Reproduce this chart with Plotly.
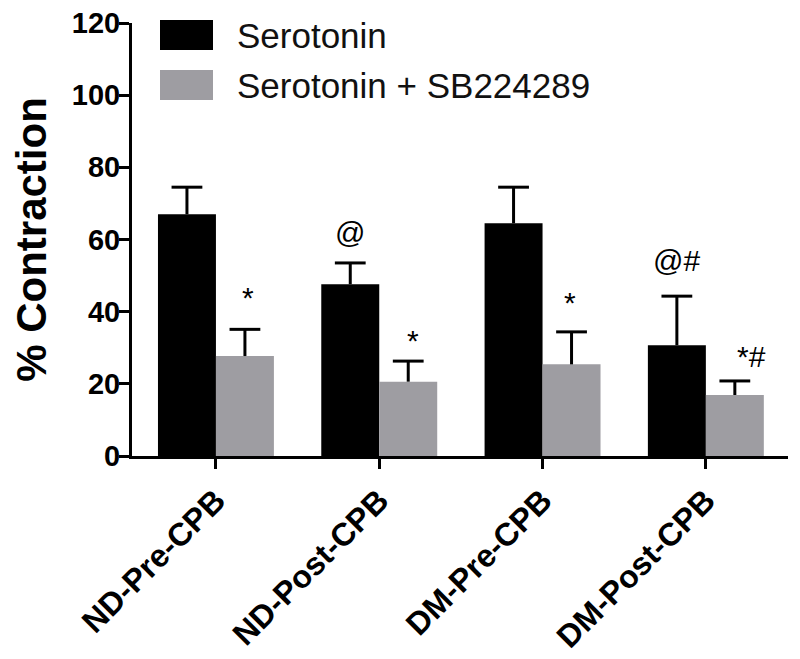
import plotly.graph_objects as go

categories = ["ND-Pre-CPB", "ND-Post-CPB", "DM-Pre-CPB", "DM-Post-CPB"]
serotonin = [67.0, 47.6, 64.5, 30.7]
serotonin_err = [7.5, 5.9, 10.0, 13.6]
sb = [27.7, 20.6, 25.4, 16.9]
sb_err = [7.4, 5.7, 9.0, 3.9]

series_names = ["Serotonin", "Serotonin + SB224289"]
series_colors = ["#000000", "#9e9da2"]

# significance marks: (category index, series index, text)
marks = [(0, 1, "*"), (1, 0, "@"), (1, 1, "*"), (2, 1, "*"), (3, 0, "@#"), (3, 1, "*#")]
mark_dx = [3, 0, 5, -2, 0, 17]        # px offsets
mark_dy = [32, 30, 21, 29, 36, 24]    # px offsets above error cap

FONT = "Liberation Sans, Arial, sans-serif"
BARGAP = 0.29
xidx = list(range(len(categories)))
half = (1 - BARGAP) / 4

fig = go.Figure()
vals = [serotonin, sb]
errs = [serotonin_err, sb_err]
for i in range(2):
    fig.add_trace(go.Bar(
        x=xidx, y=vals[i], name=series_names[i],
        marker=dict(color=series_colors[i], line=dict(width=0)),
        error_y=dict(type="data", symmetric=False, array=errs[i],
                     arrayminus=[0] * len(categories),
                     color="black", thickness=3, width=0),
        showlegend=False,
    ))
# error caps
for i in range(2):
    sign = -1 if i == 0 else 1
    fig.add_trace(go.Scatter(
        x=[c + sign * half for c in xidx],
        y=[v + e for v, e in zip(vals[i], errs[i])],
        mode="markers", showlegend=False, hoverinfo="skip",
        marker=dict(symbol="line-ew", size=22, color="black",
                    line=dict(width=3, color="black")),
    ))

for (ci, si, txt), dx, dy in zip(marks, mark_dx, mark_dy):
    xpos = ci + (-half if si == 0 else half)
    ypos = vals[si][ci] + errs[si][ci]
    fig.add_annotation(x=xpos, y=ypos, xref="x", yref="y", text=txt,
                       showarrow=False, xshift=dx, yshift=dy,
                       yanchor="middle", xanchor="center",
                       font=dict(family=FONT, size=30, color="black"))

# page body adds an 8px offset; figure is sized to fit the window
OFF = 8
FW, FH = 800 - OFF, 659 - OFF
L, T, W, H = 132 - OFF, 23 - OFF, 656, 433
def px_x(p):
    return (p - OFF - L) / W
def px_y(p):
    return (T + H - (p - OFF)) / H
leg_rows = [(20, 50), (70, 100)]
for i, (t, b) in enumerate(leg_rows):
    fig.add_shape(type="rect", xref="paper", yref="paper",
                  x0=px_x(160), x1=px_x(213), y0=px_y(b), y1=px_y(t),
                  fillcolor=series_colors[i], line=dict(width=0))
    fig.add_annotation(xref="paper", yref="paper", x=px_x(235), y=px_y((t + b) / 2),
                       text=series_names[i], showarrow=False,
                       xanchor="left", yanchor="middle",
                       font=dict(family=FONT, size=35, color="#111111"))

fig.update_layout(
    width=FW, height=FH,
    margin=dict(l=L, r=FW - L - W, t=T, b=FH - T - H),
    paper_bgcolor="white", plot_bgcolor="white",
    barmode="group", bargap=BARGAP, bargroupgap=0,
    font=dict(family=FONT, color="black"),
    showlegend=False,
)
fig.update_xaxes(
    range=[-0.514, 3.503], tickvals=xidx, ticktext=categories,
    showline=True, linewidth=3, linecolor="black",
    ticks="outside", ticklen=10, tickwidth=3, tickcolor="black",
    tickangle=-45, showgrid=False, zeroline=False, automargin=False,
    ticklabeloverflow="allow",
    tickfont=dict(family=FONT, size=32, color="black", weight="bold"),
)
fig.update_yaxes(
    range=[0, 120], dtick=20, showline=True, linewidth=3, linecolor="black",
    ticks="outside", ticklen=10, tickwidth=3, tickcolor="black",
    showgrid=False, zeroline=False, ticklabelstandoff=-7, automargin=False,
    ticklabeloverflow="allow",
    tickfont=dict(family=FONT, size=29, color="black", weight="bold"),
    title=dict(text="% Contraction", standoff=17,
               font=dict(family=FONT, size=42, color="black", weight="bold")),
)

fig.write_html("out.html")
